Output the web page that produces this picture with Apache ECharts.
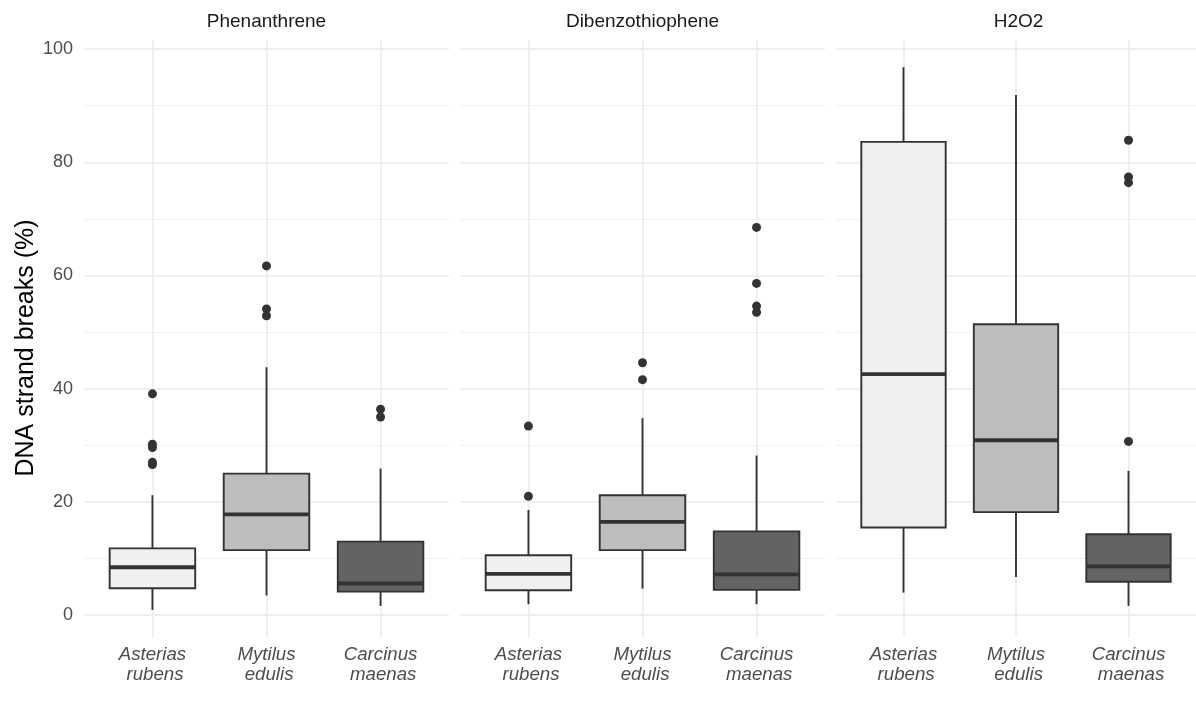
<!DOCTYPE html>
<html>
<head>
<meta charset="utf-8">
<script src="https://cdn.jsdelivr.net/npm/echarts@6/dist/echarts.min.js"></script>
<style>
  html, body { margin: 0; padding: 0; background: #ffffff; }
  #chart { width: 1196px; height: 703px; }
</style>
</head>
<body>
<div id="chart"></div>
<script>
// ---- data ----
const facets = ['Phenanthrene', 'Dibenzothiophene', 'H2O2'];
const species = ['Asterias rubens', 'Mytilus edulis', 'Carcinus maenas'];
const yAxisTitle = 'DNA strand breaks (%)';
const yTicks = [0, 20, 40, 60, 80, 100];
const yMinorTicks = [10, 30, 50, 70, 90];
const xPositions = [1, 2, 3];

// box stats: [lower whisker, Q1, median, Q3, upper whisker]
const phenanthreneBoxes = [
  [0.94, 4.76, 8.47, 11.8, 21.2],
  [3.5, 11.5, 17.8, 25.0, 43.8],
  [1.65, 4.17, 5.6, 13.0, 25.9]
];
const phenanthreneOutliers = [
  [39.1, 30.2, 29.6, 27.0, 26.6],
  [61.7, 54.1, 52.9],
  [36.4, 35.0]
];
const dibenzothiopheneBoxes = [
  [1.94, 4.4, 7.3, 10.6, 18.6],
  [4.7, 11.5, 16.5, 21.2, 34.8],
  [1.94, 4.47, 7.2, 14.8, 28.2]
];
const dibenzothiopheneOutliers = [
  [33.4, 21.0],
  [44.6, 41.6],
  [68.5, 58.6, 54.6, 53.5]
];
const h2o2Boxes = [
  [4.0, 15.5, 42.6, 83.6, 96.8],
  [6.76, 18.2, 30.9, 51.4, 91.9],
  [1.65, 5.9, 8.64, 14.3, 25.5]
];
const h2o2Outliers = [
  [],
  [],
  [83.9, 77.4, 76.4, 30.7]
];

const allBoxes = [phenanthreneBoxes, dibenzothiopheneBoxes, h2o2Boxes];
const allOutliers = [phenanthreneOutliers, dibenzothiopheneOutliers, h2o2Outliers];

// ---- style ----
const fills = ['#f0f0f0', '#bdbdbd', '#636363'];
const ink = '#333333';
const FONT = '"Liberation Sans", Arial, Helvetica, sans-serif';
const panelLefts = [84, 460, 836];
const panelWidth = 365;
const panelTop = 40;
const panelHeight = 597;

function renderBox(params, api) {
  const x = api.value(0);
  const pLow = api.coord([x, api.value(1)]);
  const pQ1 = api.coord([x, api.value(2)]);
  const pMed = api.coord([x, api.value(3)]);
  const pQ3 = api.coord([x, api.value(4)]);
  const pHigh = api.coord([x, api.value(5)]);
  const fillIdx = api.value(6);
  const halfW = api.size([0.75, 0])[0] / 2;
  const lw = 1.9;
  return {
    type: 'group',
    children: [
      { type: 'line', shape: { x1: pLow[0], y1: pLow[1], x2: pQ1[0], y2: pQ1[1] }, style: { stroke: ink, lineWidth: lw } },
      { type: 'line', shape: { x1: pQ3[0], y1: pQ3[1], x2: pHigh[0], y2: pHigh[1] }, style: { stroke: ink, lineWidth: lw } },
      { type: 'rect', shape: { x: pQ3[0] - halfW, y: pQ3[1], width: halfW * 2, height: pQ1[1] - pQ3[1] },
        style: { fill: fills[fillIdx], stroke: ink, lineWidth: lw } },
      { type: 'line', shape: { x1: pMed[0] - halfW, y1: pMed[1], x2: pMed[0] + halfW, y2: pMed[1] },
        style: { stroke: ink, lineWidth: 3.8 } }
    ]
  };
}

const grids = [], xAxes = [], yAxes = [], series = [], titles = [];
facets.forEach((f, i) => {
  grids.push({ left: panelLefts[i], top: panelTop, width: panelWidth, height: panelHeight, containLabel: false });
  titles.push({
    text: f, left: panelLefts[i] + panelWidth / 2, top: 12, textAlign: 'center', padding: 0,
    textStyle: { fontSize: 19, fontWeight: 'normal', color: '#1a1a1a', fontFamily: FONT }
  });
  xAxes.push({
    type: 'value', gridIndex: i, min: 0.4, max: 3.6,
    axisLine: { show: false }, axisTick: { show: false }, splitLine: { show: false },
    axisLabel: {
      customValues: xPositions, margin: 8,
      formatter: v => species[Math.round(v) - 1].replace(' ', '\n '),
      fontSize: 18.7, fontStyle: 'italic', color: '#4d4d4d', lineHeight: 20, fontFamily: FONT
    }
  });
  yAxes.push({
    type: 'value', gridIndex: i, min: -3.85, max: 101.6,
    axisLine: { show: false }, axisTick: { show: false }, splitLine: { show: false },
    axisLabel: {
      show: i === 0, customValues: yTicks, margin: 11,
      fontSize: 18, color: '#4d4d4d', fontFamily: FONT
    }
  });
  // gridlines
  series.push({
    type: 'line', xAxisIndex: i, yAxisIndex: i, data: [], z: 1, silent: true,
    markLine: {
      silent: true, symbol: 'none', animation: false, z: 1,
      label: { show: false },
      emphasis: { disabled: true },
      data: [
        ...yMinorTicks.map(v => ({ yAxis: v, lineStyle: { color: '#f1f1f1', width: 1, type: 'solid' } })),
        ...yTicks.map(v => ({ yAxis: v, lineStyle: { color: '#ebebeb', width: 1.6, type: 'solid' } })),
        ...xPositions.map(v => ({ xAxis: v, lineStyle: { color: '#ebebeb', width: 1.6, type: 'solid' } }))
      ]
    }
  });
  series.push({
    type: 'custom', xAxisIndex: i, yAxisIndex: i, z: 3, silent: true,
    renderItem: renderBox,
    encode: { x: 0, y: [1, 2, 3, 4, 5] },
    data: allBoxes[i].map((b, j) => [xPositions[j], ...b, j])
  });
  series.push({
    type: 'scatter', xAxisIndex: i, yAxisIndex: i, z: 4, silent: true,
    symbolSize: 9, itemStyle: { color: ink, opacity: 1 },
    data: allOutliers[i].flatMap((arr, j) => arr.map(v => [xPositions[j], v]))
  });
});

const chart = echarts.init(document.getElementById('chart'), null, { renderer: 'canvas' });
chart.setOption({
  backgroundColor: '#ffffff',
  animation: false,
  textStyle: { fontFamily: FONT },
  title: titles,
  grid: grids,
  xAxis: xAxes,
  yAxis: yAxes,
  graphic: [{
    type: 'text', x: 26, y: 348, rotation: Math.PI / 2, silent: true,
    style: {
      text: yAxisTitle, fontSize: 25, fill: '#000000', fontFamily: FONT,
      align: 'center', verticalAlign: 'middle'
    }
  }],
  series: series
});
</script>
</body>
</html>
